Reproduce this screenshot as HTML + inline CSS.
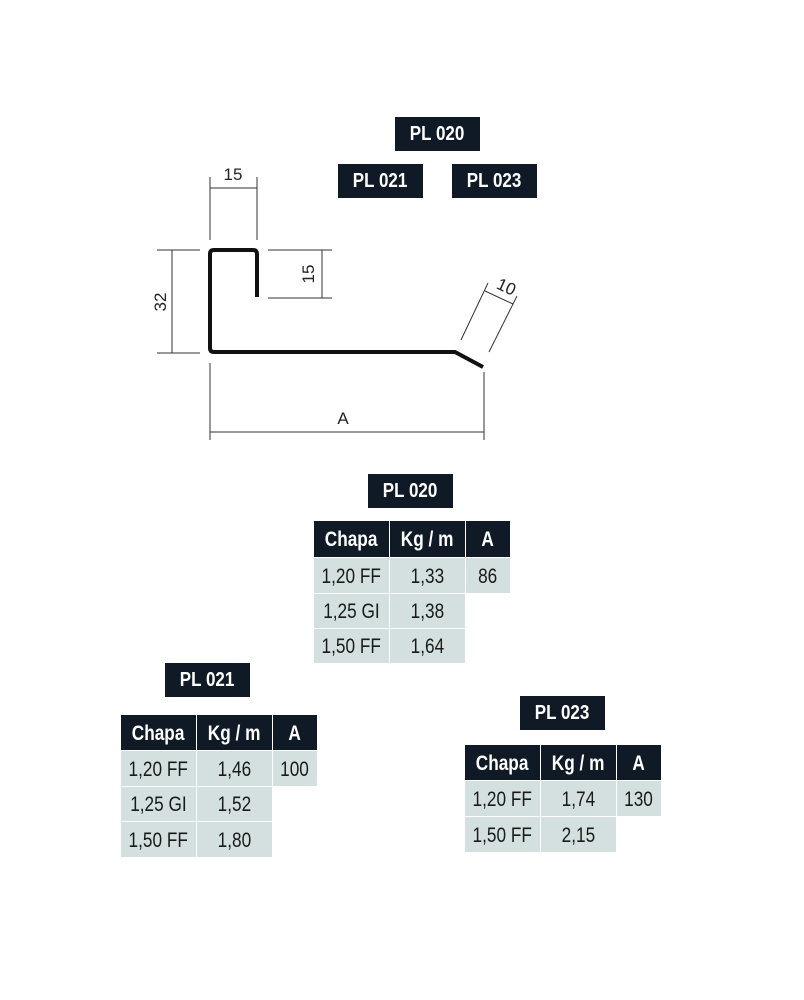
<!DOCTYPE html>
<html><head><meta charset="utf-8"><style>
html,body{margin:0;padding:0;background:#fff}
body{width:804px;height:1000px;position:relative;overflow:hidden;font-family:"Liberation Sans",sans-serif}
.lbl{position:absolute;background:#101a27;color:#fff;font-size:20px;text-align:center;line-height:35px;height:34px;width:85px;font-weight:bold}
.c{position:absolute;text-align:center;font-size:21px;box-sizing:border-box}
.c span{display:inline-block;transform:scaleX(0.82)}
.lbl span{display:inline-block;transform:scaleX(0.85)}
.h{background:#101a27;color:#fff;font-weight:bold}
.d{background:#d4dfdf;color:#1a1a1a}
</style></head><body>
<svg width="804" height="1000" style="position:absolute;left:0;top:0">
<g stroke="#333" stroke-width="1" fill="none">
<line x1="210" y1="177" x2="210" y2="240"/><line x1="257" y1="177" x2="257" y2="240"/><line x1="210" y1="188" x2="257" y2="188"/>
<line x1="157" y1="250" x2="200" y2="250"/><line x1="157" y1="353" x2="200" y2="353"/><line x1="172" y1="250" x2="172" y2="353"/>
<line x1="268" y1="250" x2="332" y2="250"/><line x1="268" y1="298" x2="332" y2="298"/><line x1="322" y1="250" x2="322" y2="298"/>
<line x1="461" y1="340" x2="488" y2="283"/><line x1="489" y1="352" x2="517" y2="296"/><line x1="485" y1="291" x2="513" y2="304"/>
<line x1="210" y1="363" x2="210" y2="440"/><line x1="484" y1="372" x2="484" y2="440"/><line x1="210" y1="432" x2="484" y2="432"/>
</g>
<path d="M257 297 V254 Q257 250 253 250 H214 Q210 250 210 254 V348 Q210 352 214 352 H455 L483 367" stroke="#111" stroke-width="4" fill="none"/>
<g font-family="Liberation Sans,sans-serif" font-size="17" fill="#222">
<text x="233" y="180" text-anchor="middle">15</text>
<text x="343" y="424" text-anchor="middle">A</text>
<text transform="translate(166,302) rotate(-90)" text-anchor="middle">32</text>
<text transform="translate(314,274) rotate(-90)" text-anchor="middle">15</text>
<text transform="translate(504,292) rotate(25)" text-anchor="middle">10</text>
</g>
</svg>
<div class="lbl" style="left:395px;top:117px"><span>PL 020</span></div>
<div class="lbl" style="left:338px;top:164px"><span>PL 021</span></div>
<div class="lbl" style="left:452px;top:164px"><span>PL 023</span></div>

<div class="lbl" style="left:368px;top:474px"><span>PL 020</span></div>
<div class="c h" style="left:314px;top:521px;width:75px;height:36px;line-height:38px"><span>Chapa</span></div>
<div class="c h" style="left:390px;top:521px;width:75px;height:36px;line-height:38px"><span>Kg / m</span></div>
<div class="c h" style="left:466px;top:521px;width:44px;height:36px;line-height:38px"><span>A</span></div>
<div class="c d" style="left:314px;top:558px;width:75px;height:35px;line-height:37px"><span>1,20 FF</span></div>
<div class="c d" style="left:390px;top:558px;width:75px;height:35px;line-height:37px"><span>1,33</span></div>
<div class="c d" style="left:466px;top:558px;width:44px;height:35px;line-height:37px"><span>86</span></div>
<div class="c d" style="left:314px;top:594px;width:75px;height:34px;line-height:36px"><span>1,25 GI</span></div>
<div class="c d" style="left:390px;top:594px;width:75px;height:34px;line-height:36px"><span>1,38</span></div>
<div class="c d" style="left:314px;top:629px;width:75px;height:34px;line-height:36px"><span>1,50 FF</span></div>
<div class="c d" style="left:390px;top:629px;width:75px;height:34px;line-height:36px"><span>1,64</span></div>

<div class="lbl" style="left:165px;top:663px"><span>PL 021</span></div>
<div class="c h" style="left:121px;top:715px;width:75px;height:35px;line-height:37px"><span>Chapa</span></div>
<div class="c h" style="left:197px;top:715px;width:75px;height:35px;line-height:37px"><span>Kg / m</span></div>
<div class="c h" style="left:273px;top:715px;width:44px;height:35px;line-height:37px"><span>A</span></div>
<div class="c d" style="left:121px;top:751px;width:75px;height:35px;line-height:37px"><span>1,20 FF</span></div>
<div class="c d" style="left:197px;top:751px;width:75px;height:35px;line-height:37px"><span>1,46</span></div>
<div class="c d" style="left:273px;top:751px;width:44px;height:35px;line-height:37px"><span>100</span></div>
<div class="c d" style="left:121px;top:787px;width:75px;height:34px;line-height:36px"><span>1,25 GI</span></div>
<div class="c d" style="left:197px;top:787px;width:75px;height:34px;line-height:36px"><span>1,52</span></div>
<div class="c d" style="left:121px;top:822px;width:75px;height:35px;line-height:37px"><span>1,50 FF</span></div>
<div class="c d" style="left:197px;top:822px;width:75px;height:35px;line-height:37px"><span>1,80</span></div>

<div class="lbl" style="left:520px;top:696px"><span>PL 023</span></div>
<div class="c h" style="left:465px;top:745px;width:75px;height:35px;line-height:37px"><span>Chapa</span></div>
<div class="c h" style="left:541px;top:745px;width:75px;height:35px;line-height:37px"><span>Kg / m</span></div>
<div class="c h" style="left:617px;top:745px;width:44px;height:35px;line-height:37px"><span>A</span></div>
<div class="c d" style="left:465px;top:781px;width:75px;height:35px;line-height:37px"><span>1,20 FF</span></div>
<div class="c d" style="left:541px;top:781px;width:75px;height:35px;line-height:37px"><span>1,74</span></div>
<div class="c d" style="left:617px;top:781px;width:44px;height:35px;line-height:37px"><span>130</span></div>
<div class="c d" style="left:465px;top:817px;width:75px;height:35px;line-height:37px"><span>1,50 FF</span></div>
<div class="c d" style="left:541px;top:817px;width:75px;height:35px;line-height:37px"><span>2,15</span></div>
</body></html>
